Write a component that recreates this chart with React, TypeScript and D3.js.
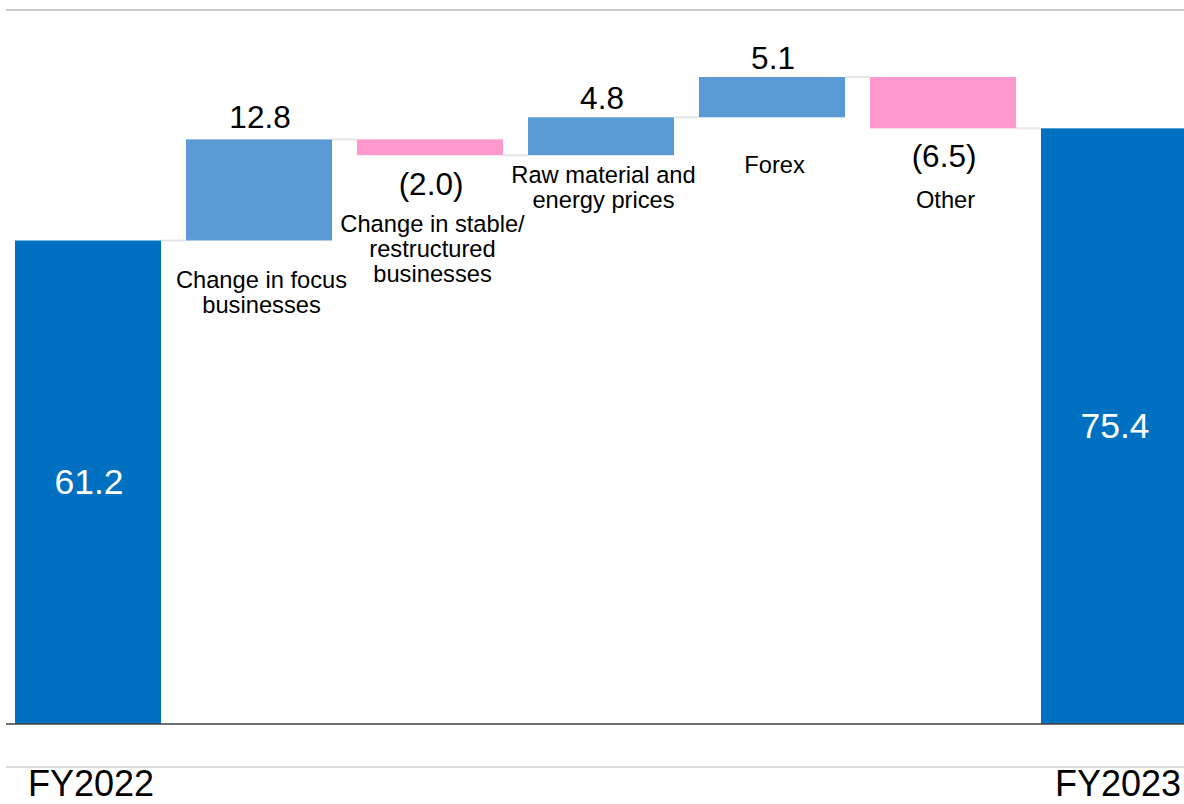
import React from "react";
import * as d3 from "d3";

// ---- data ----
const categories = [
  "FY2022",
  "Change in focus businesses",
  "Change in stable/ restructured businesses",
  "Raw material and energy prices",
  "Forex",
  "Other",
  "FY2023",
];
const categoryLines: string[][] = [
  [],
  ["Change in focus", "businesses"],
  ["Change in stable/", "restructured", "businesses"],
  ["Raw material and", "energy prices"],
  ["Forex"],
  ["Other"],
  [],
];
const kinds = ["total", "delta", "delta", "delta", "delta", "delta", "total"];
const values = [61.2, 12.8, -2.0, 4.8, 5.1, -6.5, 75.4];
const valueLabels = ["61.2", "12.8", "(2.0)", "4.8", "5.1", "(6.5)", "75.4"];

// ---- layout (pixel offsets) ----
const catLabelOffset = [0, 47, 77, 28, 56, 80, 0]; // first baseline below bar bottom
const valueLabelOffset = [0, 11.5, 40, 8.5, 7.5, 38.5, 0]; // above top (pos) / below bottom (neg)

const COLORS = { total: "#0070C0", up: "#5B9BD5", down: "#FF99CC", connector: "#E6E6E6" };
const FONT = "'Liberation Sans', Arial, sans-serif";

export default function App() {
  const W = 1184, H = 804;
  const n = categories.length;
  const x = d3
    .scaleBand<string>()
    .domain(categories)
    .range([15, 15 + 171 * (n - 0.146)])
    .paddingInner(0.146)
    .paddingOuter(0);
  const y = d3.scaleLinear().domain([0, 100]).range([724, -66]);

  let run = 0;
  const segs = values.map((v, i) => {
    let lo: number, hi: number;
    if (kinds[i] === "total") {
      lo = 0; hi = v; run = v;
    } else {
      const start = run; run = run + v;
      lo = Math.min(start, run); hi = Math.max(start, run);
    }
    return { cat: categories[i], v, lo, hi, end: run, kind: kinds[i] };
  });

  const bw = x.bandwidth();

  return (
    <svg width={W} height={H} style={{ position: "absolute", left: 0, top: 0, background: "#fff" }} fontFamily={FONT}>
      <line x1={6} x2={W} y1={10} y2={10} stroke="#CCCCCC" strokeWidth={2} />
      {segs.slice(0, -1).map((s, i) => {
        const x1 = (x(s.cat) as number) + bw;
        const x2 = x(categories[i + 1]) as number;
        return <line key={"c" + i} x1={x1} x2={x2} y1={y(s.end)} y2={y(s.end)} stroke={COLORS.connector} strokeWidth={2} />;
      })}
      {segs.map((s, i) => {
        const fill = s.kind === "total" ? COLORS.total : s.v >= 0 ? COLORS.up : COLORS.down;
        return <rect key={"b" + i} x={x(s.cat)} y={y(s.hi)} width={bw} height={y(s.lo) - y(s.hi)} fill={fill} />;
      })}
      <line x1={6} x2={W} y1={724} y2={724} stroke="#404040" strokeWidth={1.5} />
      <line x1={6} x2={W} y1={767} y2={767} stroke="#D0D0D0" strokeWidth={1.5} />

      {segs.map((s, i) => {
        const cx = (x(s.cat) as number) + bw / 2;
        if (s.kind === "total") {
          return (
            <text key={"v" + i} x={cx + 1} y={(y(s.hi) + y(0)) / 2 + 12} textAnchor="middle" fill="#fff" fontSize={35.5}>
              {valueLabels[i]}
            </text>
          );
        }
        const yy = s.v >= 0 ? y(s.hi) - valueLabelOffset[i] : y(s.lo) + valueLabelOffset[i];
        return (
          <text key={"v" + i} x={cx + 1} y={yy} textAnchor="middle" fill="#000" fontSize={31.5}>
            {valueLabels[i]}
          </text>
        );
      })}
      {segs.map((s, i) => {
        if (s.kind === "total") return null;
        const cx = (x(s.cat) as number) + bw / 2 + 2.5;
        const y0 = y(s.lo) + catLabelOffset[i];
        return (
          <text key={"l" + i} x={cx} textAnchor="middle" fill="#000" fontSize={23.7}>
            {categoryLines[i].map((ln, j) => (
              <tspan key={j} x={cx} y={y0 + j * 25}>{ln}</tspan>
            ))}
          </text>
        );
      })}
      <text x={28} y={796} fontSize={36} fill="#000">{categories[0]}</text>
      <text x={1181} y={796} fontSize={36} fill="#000" textAnchor="end">{categories[n - 1]}</text>
    </svg>
  );
}
